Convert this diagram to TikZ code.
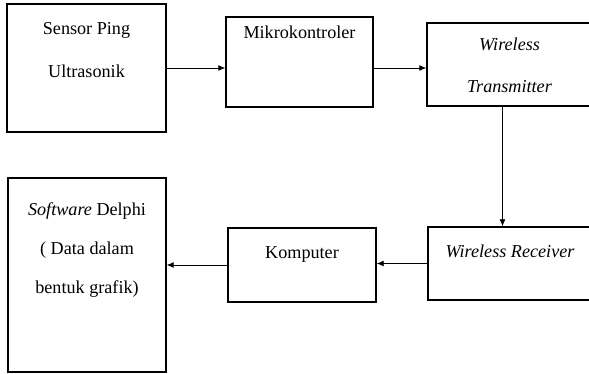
\documentclass[tikz,border=0pt]{standalone}
\usepackage{fontspec}
\setmainfont{Liberation Serif}
\usetikzlibrary{positioning,arrows.meta}
\begin{document}
\begin{tikzpicture}[
  x=0.03cm, y=-0.03cm,
  block/.style={rectangle, draw, line width=1.1pt, inner sep=0pt},
  txt/.style={anchor=north, align=center, inner sep=0pt, font=\fontsize{15.5}{36}\selectfont},
  arrow/.style={-{Latex[length=6pt,width=5pt]}, line width=0.7pt}
]
  \useasboundingbox (0,0) rectangle (589,374);
  \node[block, minimum width=4.77cm, minimum height=3.84cm,
    label={[txt, yshift=-0.58cm]north:Sensor Ping\\Ultrasonik}] (sensor) at (86.5,68) {};
  \node[block, minimum width=4.41cm, minimum height=2.7cm,
    label={[txt, yshift=-0.28cm]north:Mikrokontroler}] (mikro) at (299.5,62) {};
  \node[block, minimum width=4.95cm, minimum height=2.49cm,
    label={[txt, yshift=-0.46cm]north:\textit{Wireless}\\\textit{Transmitter}}] (trans) at (509.5,64.5) {};
  \node[block, minimum width=4.92cm, minimum height=2.19cm,
    label={[txt, yshift=-0.55cm]north:\textit{Wireless Receiver}}] (recv) at (510,263.5) {};
  \node[block, minimum width=4.44cm, minimum height=2.22cm,
    label={[txt, yshift=-0.58cm]north:Komputer}] (komp) at (302,265) {};
  \node[block, minimum width=4.74cm, minimum height=5.82cm,
    label={[txt, yshift=-0.76cm, font=\fontsize{15.5}{33}\selectfont]north:\textit{Software} Delphi\\( Data dalam\\bentuk grafik)}] (delphi) at (87,275) {};

  \draw[arrow] (sensor.east) -- (sensor.east -| mikro.west);
  \draw[arrow] (sensor.east -| mikro.east) -- (sensor.east -| trans.west);
  \draw[arrow] ([xshift=-0.21cm]trans.south) -- ([xshift=-0.21cm]trans.south |- recv.north);
  \draw[arrow] (recv.west) -- (recv.west -| komp.east);
  \draw[arrow] (komp.west) -- (komp.west -| delphi.east);
\end{tikzpicture}
\end{document}
